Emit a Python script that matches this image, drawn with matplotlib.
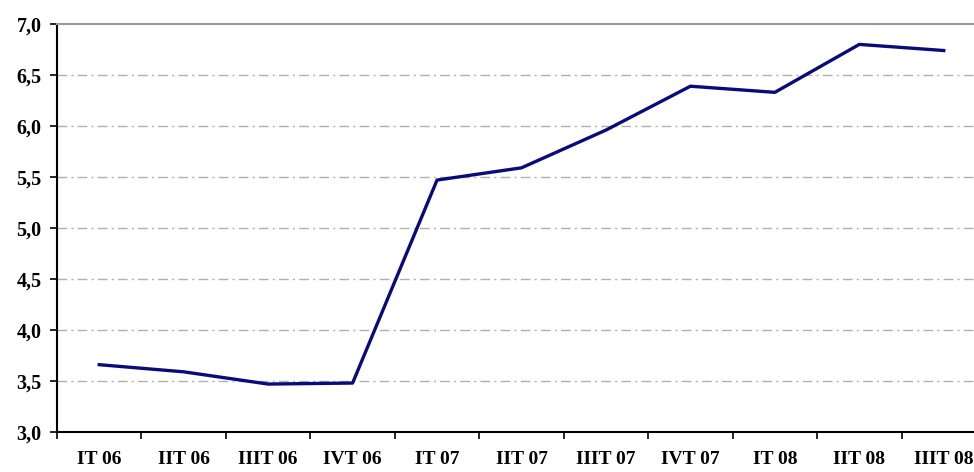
import matplotlib
matplotlib.use("Agg")
import matplotlib.pyplot as plt
import numpy as np

# quarters and values
quarters = ["IT 06", "IIT 06", "IIIT 06", "IVT 06", "IT 07", "IIT 07",
            "IIIT 07", "IVT 07", "IT 08", "IIT 08", "IIIT 08"]
values = [3.66, 3.59, 3.47, 3.48, 5.47, 5.59, 5.96, 6.39, 6.33, 6.80, 6.74]
yticks = [3.0, 3.5, 4.0, 4.5, 5.0, 5.5, 6.0, 6.5, 7.0]

plt.rcParams['font.family'] = ['Liberation Serif', 'DejaVu Serif']
plt.rcParams['font.weight'] = 'bold'

fig = plt.figure(figsize=(9.74, 4.72), dpi=100)
ax = fig.add_axes([57 / 974, 40 / 472, 929 / 974, 408 / 472])

x = np.arange(len(quarters)) + 0.5
ax.plot(x, values, color='#0a0a78', linewidth=2.4, solid_joinstyle='round')

ax.set_xlim(0, len(quarters))
ax.set_ylim(3.0, 7.0)

# gridlines
for yv in yticks[1:-1]:
    ax.axhline(yv, color='#b0b0b0', linewidth=1.0, linestyle=(0, (7, 3, 1.5, 3)), zorder=0)

ax.set_yticks(yticks)
ax.set_yticklabels([f"{v:.1f}".replace('.', ',') for v in yticks], fontsize=14.5, fontweight='bold')

ax.set_xticks(np.arange(len(quarters) + 1))
ax.set_xticklabels([])
ax.set_xticks(x, minor=True)
ax.set_xticklabels(quarters, minor=True, fontsize=14, fontweight='bold')
ax.tick_params(axis='x', which='minor', length=0, pad=14)
ax.tick_params(axis='x', which='major', length=5, width=1.2, direction='out')
ax.tick_params(axis='y', length=5, width=1.2, direction='out', pad=6)

ax.spines['left'].set_linewidth(1.5)
ax.spines['bottom'].set_linewidth(1.5)
ax.spines['top'].set_color('#999999')
ax.spines['top'].set_linewidth(1.5)
ax.spines['right'].set_visible(False)

fig.savefig("out.png", dpi=100)
